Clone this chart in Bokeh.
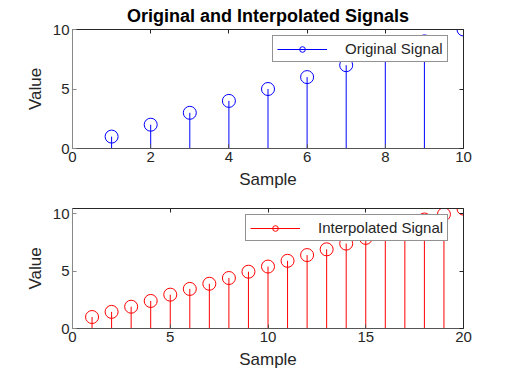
from bokeh.plotting import figure
from bokeh.models import Range1d, LinearAxis, Legend, LegendItem, FixedTicker
from bokeh.layouts import column
from bokeh.embed import file_html
from bokeh.resources import INLINE

# ---- data ----
orig_x = [1, 2, 3, 4, 5, 6, 7, 8, 9, 10]
orig_y = [1, 2, 3, 4, 5, 6, 7, 8, 9, 10]

interp_x = [1, 2, 3, 4, 5, 6, 7, 8, 9, 10, 11, 12, 13, 14, 15, 16, 17, 18, 19, 20]
interp_y = [1.0, 1.45, 1.9, 2.4, 2.95, 3.45, 3.9, 4.4, 4.95, 5.4,
            5.9, 6.4, 6.9, 7.4, 7.9, 8.4, 8.9, 9.5, 9.95, 10.45]

top_xticks = [0, 2, 4, 6, 8, 10]
bot_xticks = [0, 5, 10, 15, 20]
yticks = [0, 5, 10]

FONT = "Liberation Sans"
TXT = "#262626"


def panel(x, y, color, label, xmax, xticks, ymax, height, top, bottom,
          leg_loc, title=None):
    p = figure(width=508, height=height,
               x_range=Range1d(0, xmax), y_range=Range1d(0, ymax),
               output_backend="svg", toolbar_location=None,
               min_border_left=72, min_border_right=45,
               min_border_top=top, min_border_bottom=bottom,
               background_fill_color="white", border_fill_color="white")
    p.outline_line_color = None
    p.grid.visible = False
    if title:
        p.title.text = title
        p.title.align = "center"
        p.title.text_font = FONT
        p.title.text_font_size = "18px"
        p.title.text_font_style = "bold"
        p.title.text_color = "black"
        p.title.standoff = 7
        p.title.offset = 0

    seg = p.segment(x0=x, y0=[0] * len(x), x1=x, y1=y,
                    line_color=color, line_width=1)
    sc = p.scatter(x=x, y=y, marker="circle", size=13, fill_color=None,
                   line_color=color, line_width=1)

    for ax, ticks, lab, lc in ((p.xaxis[0], xticks, "Sample", "#555555"),
                               (p.yaxis[0], yticks, "Value", "#888888")):
        ax.ticker = FixedTicker(ticks=ticks)
        ax.major_tick_in = 4
        ax.major_tick_out = 0
        ax.minor_tick_line_color = None
        ax.axis_line_color = lc
        ax.major_tick_line_color = lc
        ax.major_label_text_font = FONT
        ax.major_label_text_font_size = "15px"
        ax.major_label_text_color = TXT
        ax.major_label_standoff = 3
        ax.axis_label = lab
        ax.axis_label_text_font = FONT
        ax.axis_label_text_font_size = "17px"
        ax.axis_label_text_font_style = "normal"
        ax.axis_label_text_color = TXT
        ax.axis_label_standoff = 5

    # box: top and right borders with inward ticks, no labels
    for loc, ticks in (("above", xticks), ("right", yticks)):
        ax = LinearAxis(ticker=FixedTicker(ticks=ticks))
        ax.major_tick_in = 4
        ax.major_tick_out = 0
        ax.minor_tick_line_color = None
        ax.axis_line_color = "#262626"
        ax.major_tick_line_color = "#262626"
        ax.major_label_text_font_size = "1px"
        ax.major_label_text_color = None
        ax.major_label_standoff = 0
        p.add_layout(ax, loc)

    leg = Legend(items=[LegendItem(label=label, renderers=[seg, sc])],
                 location=leg_loc, margin=0)
    leg.label_text_font = FONT
    leg.label_text_font_size = "15px"
    leg.label_text_color = TXT
    leg.glyph_width = 50
    leg.glyph_height = 14
    leg.label_height = 14
    leg.label_standoff = 18
    leg.padding = 4
    leg.spacing = 0
    leg.border_line_color = "#262626"
    leg.border_line_width = 1
    leg.background_fill_color = "white"
    leg.background_fill_alpha = 1
    p.add_layout(leg, "center")
    return p


p1 = panel(orig_x, orig_y, "#0000ff", "Original Signal", 10, top_xticks, 10,
           height=195, top=28, bottom=47, leg_loc=(200, 86),
           title="Original and Interpolated Signals")
p2 = panel(interp_x, interp_y, "#ff0000", "Interpolated Signal", 20, bot_xticks, 10.46,
           height=182, top=13, bottom=49, leg_loc=(173, 87))

layout = column(p1, p2, spacing=0)
open("out.html", "w").write(file_html(layout, INLINE))
